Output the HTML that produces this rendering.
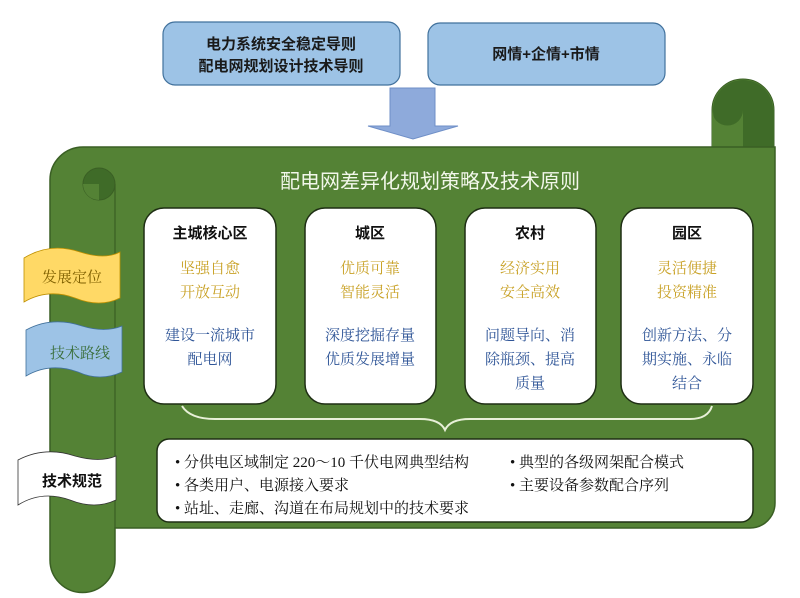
<!DOCTYPE html>
<html><head><meta charset="utf-8"><style>
html,body{margin:0;padding:0;background:#fff;width:800px;height:598px;overflow:hidden}
text{font-family:"Liberation Sans","Noto Sans CJK SC",sans-serif}
.s{font-family:"Liberation Serif","Noto Serif CJK SC",serif}
</style></head><body>
<svg width="800" height="598" viewBox="0 0 800 598" xmlns="http://www.w3.org/2000/svg">
<rect x="163" y="22" width="237" height="63" rx="12" fill="#9dc3e6" stroke="#41719c" stroke-width="1.2"/>
<text x="281" y="49" font-size="15" font-weight="bold" text-anchor="middle" fill="#1a1a1a">电力系统安全稳定导则</text>
<text x="281" y="71" font-size="15" font-weight="bold" text-anchor="middle" fill="#1a1a1a">配电网规划设计技术导则</text>
<rect x="428" y="23" width="237" height="62" rx="12" fill="#9dc3e6" stroke="#41719c" stroke-width="1.2"/>
<text x="546" y="59" font-size="15" font-weight="bold" text-anchor="middle" fill="#1a1a1a">网情+企情+市情</text>
<polygon points="390,88 435,88 435,126 458,126 413,139 368,126 390,126" fill="#8eaadb" stroke="#6f8fc7" stroke-width="1"/>
<path d="M712,147 L712,110 A31,31 0 0 1 774,110 L774,147 Z" fill="#548235" stroke="#3a5f24"/>
<circle cx="743" cy="110" r="30" fill="#3f6b28"/>
<path d="M743,110 L743,147 L774,147 L774,110 Z" fill="#3f6b28"/>
<path d="M712,110 A15,15 0 0 0 743,110 L743,147 L712,147 Z" fill="#548235"/>
<path d="M50,180 A33,33 0 0 1 83,147 L775,147 L775,503 A25,25 0 0 1 750,528 L115,528 L115,560 A32,32 0 0 1 50,560 Z" fill="#548235" stroke="#3a5f24" stroke-width="1.5"/>
<circle cx="99" cy="184" r="16" fill="#3f6b28" stroke="#3a5f24"/>
<path d="M83,184 A16,16 0 0 0 99,200 L99,184 Z" fill="#548235"/>
<line x1="115" y1="184" x2="115" y2="528" stroke="#3a5f24" stroke-width="1.2"/>
<text x="430" y="188" font-size="20" text-anchor="middle" fill="#f2f7ea">配电网差异化规划策略及技术原则</text>
<g stroke="#1e2e14" stroke-width="1.5" fill="#fff">
<rect x="144" y="208" width="132" height="196" rx="20"/>
<rect x="305" y="208" width="131" height="196" rx="20"/>
<rect x="465" y="208" width="131" height="196" rx="20"/>
<rect x="621" y="208" width="132" height="196" rx="20"/>
</g>
<g font-size="15" text-anchor="middle">
<text x="210" y="238" fill="#111" font-weight="bold">主城核心区</text>
<text class="s" x="210" y="273" fill="#c9a227">坚强自愈</text>
<text class="s" x="210" y="297" fill="#c9a227">开放互动</text>
<text class="s" x="210" y="340" fill="#2f5597">建设一流城市</text>
<text class="s" x="210" y="364" fill="#2f5597">配电网</text>
<text x="370" y="238" fill="#111" font-weight="bold">城区</text>
<text class="s" x="370" y="273" fill="#c9a227">优质可靠</text>
<text class="s" x="370" y="297" fill="#c9a227">智能灵活</text>
<text class="s" x="370" y="340" fill="#2f5597">深度挖掘存量</text>
<text class="s" x="370" y="364" fill="#2f5597">优质发展增量</text>
<text x="530" y="238" fill="#111" font-weight="bold">农村</text>
<text class="s" x="530" y="273" fill="#c9a227">经济实用</text>
<text class="s" x="530" y="297" fill="#c9a227">安全高效</text>
<text class="s" x="530" y="340" fill="#2f5597">问题导向、消</text>
<text class="s" x="530" y="364" fill="#2f5597">除瓶颈、提高</text>
<text class="s" x="530" y="388" fill="#2f5597">质量</text>
<text x="687" y="238" fill="#111" font-weight="bold">园区</text>
<text class="s" x="687" y="273" fill="#c9a227">灵活便捷</text>
<text class="s" x="687" y="297" fill="#c9a227">投资精准</text>
<text class="s" x="687" y="340" fill="#2f5597">创新方法、分</text>
<text class="s" x="687" y="364" fill="#2f5597">期实施、永临</text>
<text class="s" x="687" y="388" fill="#2f5597">结合</text>
</g>
<path d="M182,406 Q190,419 215,419 L420,419 Q440,419 445,430 Q450,419 470,419 L690,419 Q708,419 712,406" fill="none" stroke="#e8f0d8" stroke-width="2"/>
<rect x="157" y="439" width="596" height="83" rx="12" fill="#fff" stroke="#1e2e14" stroke-width="1.5"/>
<g font-size="15" fill="#111" class="s">
<text class="s" x="175" y="467">• 分供电区域制定 220～10 千伏电网典型结构</text>
<text class="s" x="175" y="490">• 各类用户、电源接入要求</text>
<text class="s" x="175" y="513">• 站址、走廊、沟道在布局规划中的技术要求</text>
<text class="s" x="510" y="467">• 典型的各级网架配合模式</text>
<text class="s" x="510" y="490">• 主要设备参数配合序列</text>
</g>
<path d="M24,258 Q50,242 80,252 Q105,260 120,252 L120,298 Q100,308 75,298 Q48,288 24,302 Z" fill="#ffd966" stroke="#bf9000" stroke-width="0.8"/>
<text class="s" x="72" y="282" font-size="15" text-anchor="middle" fill="#7f6000">发展定位</text>
<path d="M26,330 Q52,316 82,326 Q105,333 122,326 L122,372 Q100,382 78,372 Q50,362 26,376 Z" fill="#9dc3e6" stroke="#41719c" stroke-width="0.8"/>
<text class="s" x="80" y="358" font-size="15" text-anchor="middle" fill="#3a6e3a">技术路线</text>
<path d="M18,460 Q45,446 75,456 Q100,463 116,456 L116,500 Q95,510 70,500 Q42,490 18,505 Z" fill="#fff" stroke="#333" stroke-width="0.8"/>
<text x="72" y="486" font-size="15" text-anchor="middle" fill="#111" font-weight="bold">技术规范</text>
</svg>
</body></html>
